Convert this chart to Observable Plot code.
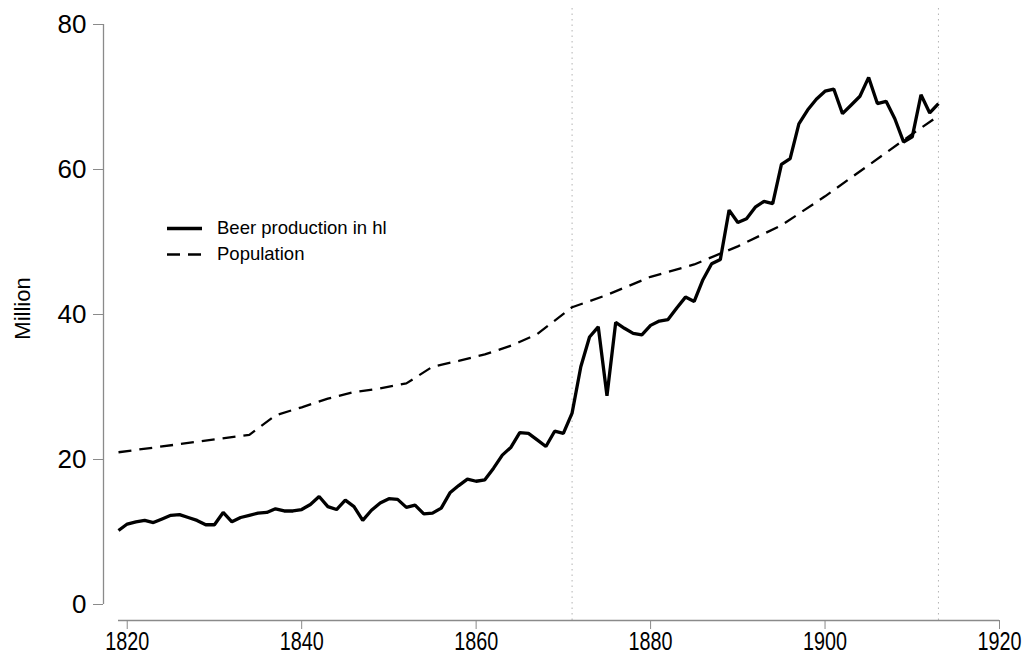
<!DOCTYPE html>
<html>
<head>
<meta charset="utf-8">
<script src="https://cdn.jsdelivr.net/npm/d3@7"></script>
<script src="https://cdn.jsdelivr.net/npm/@observablehq/plot@0.6"></script>
<style>
  body { margin: 0; background: #fff; }
  #wrap { position: relative; width: 1032px; height: 658px; font-family: "Liberation Sans", Arial, sans-serif; }
  #legend { position: absolute; left: 167px; top: 215px; font-size: 18.5px; color: #000; }
  .row { display: flex; align-items: center; height: 26px; }
  .row svg { width: 35px; height: 21px; margin-right: 15px; flex: none; }
</style>
</head>
<body>
<div id="wrap"></div>
<script>
// ---- data ----
const beerYears = d3.range(1819, 1914);
const beerValues = [
  10.2, 11.1, 11.4, 11.6, 11.3, 11.8, 12.3, 12.4, 12.0, 11.6, // 1819-1828
  11.0, 11.0, 12.7, 11.4, 12.0, 12.3, 12.6, 12.7, 13.2, 12.9, // 1829-1838
  12.9, 13.1, 13.8, 14.9, 13.5, 13.1, 14.4, 13.5, 11.6, 13.0, // 1839-1848
  14.0, 14.6, 14.5, 13.4, 13.7, 12.5, 12.6, 13.3, 15.4, 16.4, // 1849-1858
  17.3, 17.0, 17.2, 18.8, 20.6, 21.7, 23.7, 23.6, 22.7, 21.8, // 1859-1868
  23.9, 23.6, 26.4, 32.8, 36.9, 38.3, 28.8, 38.9, 38.1, 37.4, // 1869-1878
  37.2, 38.5, 39.1, 39.3, 40.9, 42.4, 41.8, 44.8, 47.0, 47.6, // 1879-1888
  54.4, 52.7, 53.2, 54.8, 55.6, 55.3, 60.7, 61.5, 66.3, 68.2, // 1889-1898
  69.7, 70.8, 71.1, 67.7, 68.9, 70.1, 72.7, 69.1, 69.4, 67.0, // 1899-1908
  63.8, 64.5, 70.3, 67.8, 69.1                                 // 1909-1913
];
const popYears  = [1819, 1834, 1837, 1840, 1843, 1846, 1849, 1852, 1855, 1858, 1861, 1864, 1867, 1871, 1875, 1880, 1885, 1890, 1895, 1900, 1905, 1910, 1913];
const popValues = [21.0, 23.4, 26.1, 27.2, 28.4, 29.3, 29.8, 30.5, 32.8, 33.6, 34.5, 35.7, 37.3, 41.0, 42.7, 45.2, 46.9, 49.4, 52.3, 56.3, 60.6, 64.9, 67.4];
const markerYears = [1871, 1913];
const xTicks = [1820, 1840, 1860, 1880, 1900, 1920];
const yTicks = [0, 20, 40, 60, 80];
const xDomain = [1819, 1920];
const yDomain = [0, 80];
const yTitle = "Million";
const seriesNames = ["Beer production in hl", "Population"];

const beer = beerYears.map((year, i) => ({year, value: beerValues[i]}));
const pop = popYears.map((year, i) => ({year, value: popValues[i]}));

const axisGray = "#8a8a8a";

const chart = Plot.plot({
  width: 1032,
  height: 658,
  marginTop: 8,
  marginBottom: 38,
  marginLeft: 103,
  marginRight: 33,
  insetTop: 16,
  insetBottom: 16,
  insetLeft: 15,
  x: {domain: xDomain},
  y: {domain: yDomain},
  style: {fontFamily: "'Liberation Sans', Arial, sans-serif", background: "white", color: "black"},
  marks: [
    Plot.ruleX(markerYears, {stroke: "#b4b4b4", strokeWidth: 1, strokeDasharray: "1.5,4"}),
    Plot.ruleY([yDomain[0]], {x1: xDomain[0], x2: xDomain[1], dy: 16, stroke: axisGray, strokeWidth: 1.3}),
    Plot.ruleX([xDomain[0]], {y1: yDomain[0], y2: yDomain[1], dx: -15, stroke: axisGray, strokeWidth: 1.3}),
    Plot.axisX({ticks: xTicks, tickSize: 9, tickPadding: 2, tickFormat: d => String(d), fontSize: 26, stroke: axisGray, fill: "black", label: null}),
    Plot.axisY({ticks: yTicks, tickSize: 10, tickPadding: 7, fontSize: 26, stroke: axisGray, fill: "black", label: null}),
    Plot.text([yTitle], {frameAnchor: "left", rotate: -90, dx: -81, dy: -6, fontSize: 22, fill: "black", textAnchor: "middle", lineAnchor: "middle"}),
    Plot.line(pop, {x: "year", y: "value", stroke: "black", strokeWidth: 2.3, strokeDasharray: "13,8", strokeLinecap: "butt", strokeLinejoin: "miter"}),
    Plot.line(beer, {x: "year", y: "value", stroke: "black", strokeWidth: 3.3, strokeLinecap: "butt", strokeLinejoin: "miter"})
  ]
});

const wrap = document.getElementById("wrap");
wrap.appendChild(chart);

// condensed x tick labels, as in the reference
chart.querySelectorAll('g[aria-label="x-axis tick label"] text').forEach(t => {
  const w = t.getComputedTextLength();
  t.setAttribute("textLength", (w * 0.76).toFixed(1));
  t.setAttribute("lengthAdjust", "spacingAndGlyphs");
});

// legend overlay
const legend = document.createElement("div");
legend.id = "legend";
const dashes = [null, "13,8"];
const widths = [3.3, 2.3];
seriesNames.forEach((name, i) => {
  const row = document.createElement("div");
  row.className = "row";
  const ns = "http://www.w3.org/2000/svg";
  const svg = document.createElementNS(ns, "svg");
  svg.setAttribute("viewBox", "0 0 35 21");
  const ln = document.createElementNS(ns, "line");
  ln.setAttribute("x1", 0); ln.setAttribute("x2", 35);
  ln.setAttribute("y1", 10.5); ln.setAttribute("y2", 10.5);
  ln.setAttribute("stroke", "black");
  ln.setAttribute("stroke-width", widths[i]);
  if (dashes[i]) ln.setAttribute("stroke-dasharray", dashes[i]);
  svg.appendChild(ln);
  const span = document.createElement("span");
  span.textContent = name;
  row.appendChild(svg);
  row.appendChild(span);
  legend.appendChild(row);
});
wrap.appendChild(legend);
</script>
</body>
</html>
